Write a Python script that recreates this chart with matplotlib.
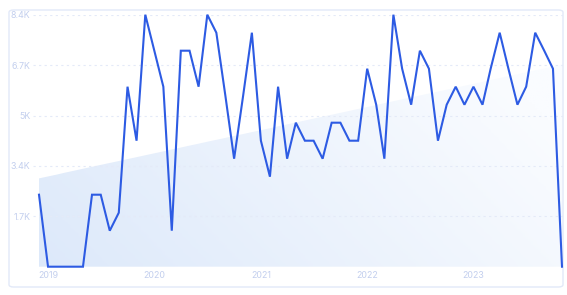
import numpy as np
import pandas as pd
import matplotlib.pyplot as plt
from matplotlib.patches import FancyBboxPatch
from matplotlib.colors import LinearSegmentedColormap
import matplotlib.dates as mdates

plt.rcParams['font.family'] = ['Inter', 'DejaVu Sans']

# monthly values, Dec 2018 .. Nov 2023
months = pd.date_range('2018-12-01', periods=60, freq='MS')
values = [2400, 0, 0, 0, 0, 0, 2400, 2400, 1200, 1800,
          6000, 4200, 8400, 7200, 6000, 1200, 7200, 7200, 6000, 8400,
          7800, 5700, 3600, 5700, 7800, 4200, 3000, 6000, 3600, 4800,
          4200, 4200, 3600, 4800, 4800, 4200, 4200, 6600, 5400, 3600,
          8400, 6600, 5400, 7200, 6600, 4200, 5400, 6000, 5400, 6000,
          5400, 6600, 7800, 6600, 5400, 6000, 7800, 7200, 6600, 0]
y_ticks = [1680, 3360, 5040, 6720, 8400]
y_labels = ['1.7K', '3.4K', '5K', '6.7K', '8.4K']
year_ticks = ['2019', '2020', '2021', '2022', '2023']

line_color = '#2d5be3'
text_color = '#c3cfee'
grid_color = '#e4eaf8'

W, H = 567, 295
fig = plt.figure(figsize=(W / 100, H / 100), dpi=100)

# card background
card = FancyBboxPatch((9 / W, 8 / H), 554 / W, 277 / H,
                      boxstyle='round,pad=0,rounding_size=0.008',
                      transform=fig.transFigure, facecolor='white',
                      edgecolor='#e2e9f8', linewidth=1.0, zorder=-5)
fig.patches.append(card)

ax = fig.add_axes([33 / W, (H - 266.7) / H, 530 / W, 252 / H])
ax.set_facecolor('none')
ax.set_zorder(2)

x = mdates.date2num(months)
y = np.array(values, dtype=float)
x0 = x[0] - (x[-1] - x[0]) * 6 / 523
x1 = x[-1] + (x[-1] - x[0]) * 1 / 523

# linear trend shaded area
idx = np.arange(len(y))
slope, icpt = np.polyfit(idx, y, 1)
trend = icpt + slope * idx
poly = ax.fill_between(x, 0, trend, facecolor='none', edgecolor='none')
cmap = LinearSegmentedColormap.from_list('g', ['#dde9fa', '#fafcff'])
gx, gy = np.meshgrid(np.linspace(0, 1, 200), np.linspace(0, 1, 100))
grad = 0.8 * gx + 0.3 * (1 - gy)
img = ax.imshow(grad, cmap=cmap, aspect='auto', origin='upper',
                extent=[x[0], x[-1], 0, trend.max()], zorder=1,
                vmin=0, vmax=1)
img.set_clip_path(poly.get_paths()[0], transform=ax.transData)
ax.set_xlim(x0, x1)
ax.set_ylim(0, 8400)

ax.plot(x, y, color=line_color, linewidth=1.5, zorder=3, clip_on=False,
        solid_joinstyle='miter')

ax.set_yticks(y_ticks)
ax.set_yticklabels(y_labels)
ax.set_xticks(mdates.date2num(pd.to_datetime([f'{t}-01-01' for t in year_ticks])))
ax.set_xticklabels(year_ticks)
ax.tick_params(axis='both', length=0, labelsize=6.4, colors=text_color)
ax.tick_params(axis='y', pad=2)
ax.tick_params(axis='x', pad=3)
ax.grid(axis='y', color=grid_color, linestyle=(0, (2, 3)), linewidth=0.8, zorder=0)
for s in ax.spines.values():
    s.set_visible(False)

fig.savefig('out.png', dpi=100)
